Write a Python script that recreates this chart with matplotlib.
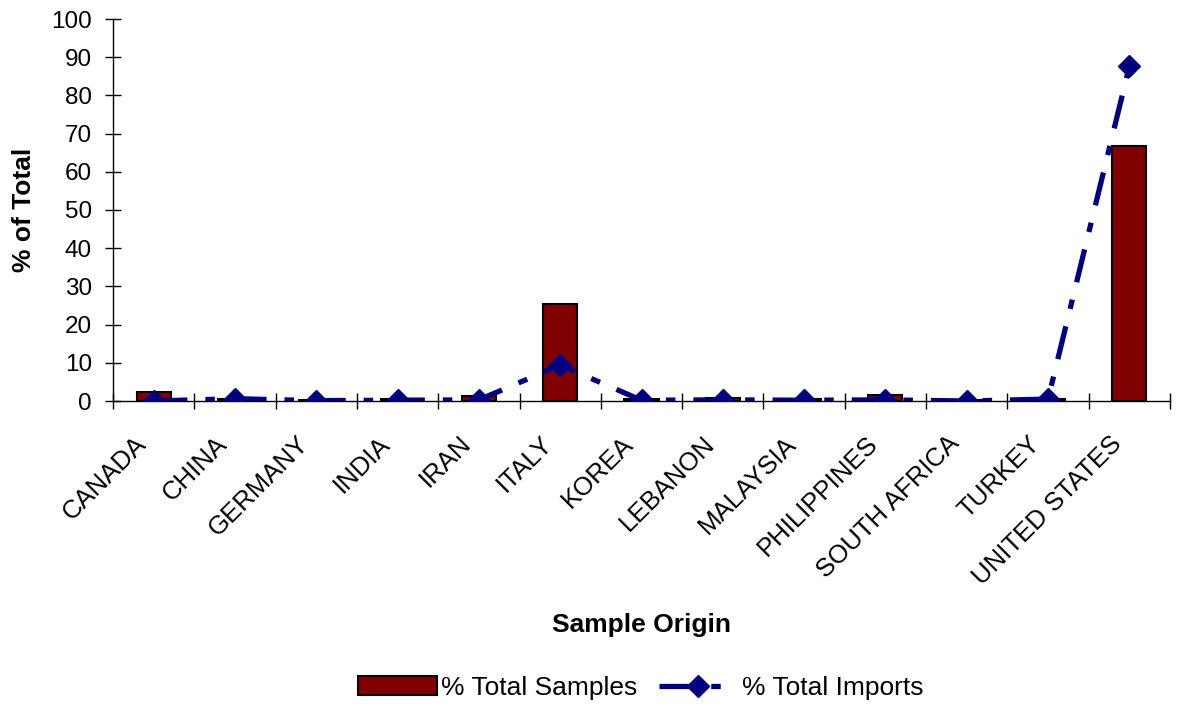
import matplotlib
matplotlib.use("Agg")
import matplotlib.pyplot as plt
import matplotlib.transforms as mtransforms
import numpy as np

plt.rcParams['font.family'] = ['Liberation Sans', 'DejaVu Sans']

countries = ["CANADA", "CHINA", "GERMANY", "INDIA", "IRAN", "ITALY", "KOREA",
             "LEBANON", "MALAYSIA", "PHILIPPINES", "SOUTH AFRICA", "TURKEY",
             "UNITED STATES"]
pct_samples = [2.4, 0.5, 0.2, 0.5, 1.2, 25.3, 0.4, 0.8, 0.4, 1.5, 0.2, 0.4, 66.7]
pct_imports = [0.0, 0.6, 0.1, 0.2, 0.3, 9.4, 0.2, 0.3, 0.2, 0.3, 0.0, 0.5, 87.6]
yticks = list(range(0, 101, 10))

fig = plt.figure(figsize=(11.78, 7.07), dpi=100)
ax = fig.add_axes([113/1178, 1 - 401/707, (1170-113)/1178, (401-19)/707])

x = np.arange(len(countries))
bars = ax.bar(x, pct_samples, width=0.42, color='#800000', edgecolor='black',
              linewidth=1.5, label='% Total Samples', zorder=2)
line, = ax.plot(x, pct_imports, color='#000080', linewidth=3.8,
                linestyle=(0, (6.4, 3.4, 1.8, 3.4)),
                marker='D', markersize=11, label='% Total Imports', zorder=3)

ax.set_xlim(-0.5, len(countries) - 0.5)
ax.set_ylim(0, 100)
ax.set_yticks(yticks)
ax.set_yticklabels([str(v) for v in yticks], fontsize=17.5)
ax.set_xticks(x)
ax.set_xticklabels(countries, rotation=45, ha='right', va='top',
                   rotation_mode='anchor', fontsize=18.5)
ax.tick_params(axis='x', length=0, pad=22)
off = mtransforms.ScaledTranslation(-20/100, 0, fig.dpi_scale_trans)
for lab in ax.get_xticklabels():
    lab.set_transform(lab.get_transform() + off)
ax.set_xticks(np.arange(-0.5, len(countries), 1), minor=True)
ax.tick_params(axis='x', which='minor', length=11.5, width=1, direction='inout')
ax.tick_params(axis='y', length=11.5, width=1, direction='inout', pad=9.4)

for s in ['top', 'right']:
    ax.spines[s].set_visible(False)
ax.spines['left'].set_linewidth(1)
ax.spines['bottom'].set_linewidth(1)

ax.set_ylabel('% of Total', fontsize=19, fontweight='bold')
ax.yaxis.set_label_coords(-0.073, 0.5)
ax.set_xlabel('Sample Origin', fontsize=19, fontweight='bold')
ax.xaxis.set_label_coords(0.5, -0.555)

fig.legend(handles=[bars, line], labels=['% Total Samples', '% Total Imports'],
           loc='center', bbox_to_anchor=(0.544, 0.027), ncol=2, frameon=False,
           fontsize=19, handlelength=3.0, columnspacing=0.8, handletextpad=0.15,
           borderpad=0, borderaxespad=0)

fig.savefig('out.png', dpi=100)
